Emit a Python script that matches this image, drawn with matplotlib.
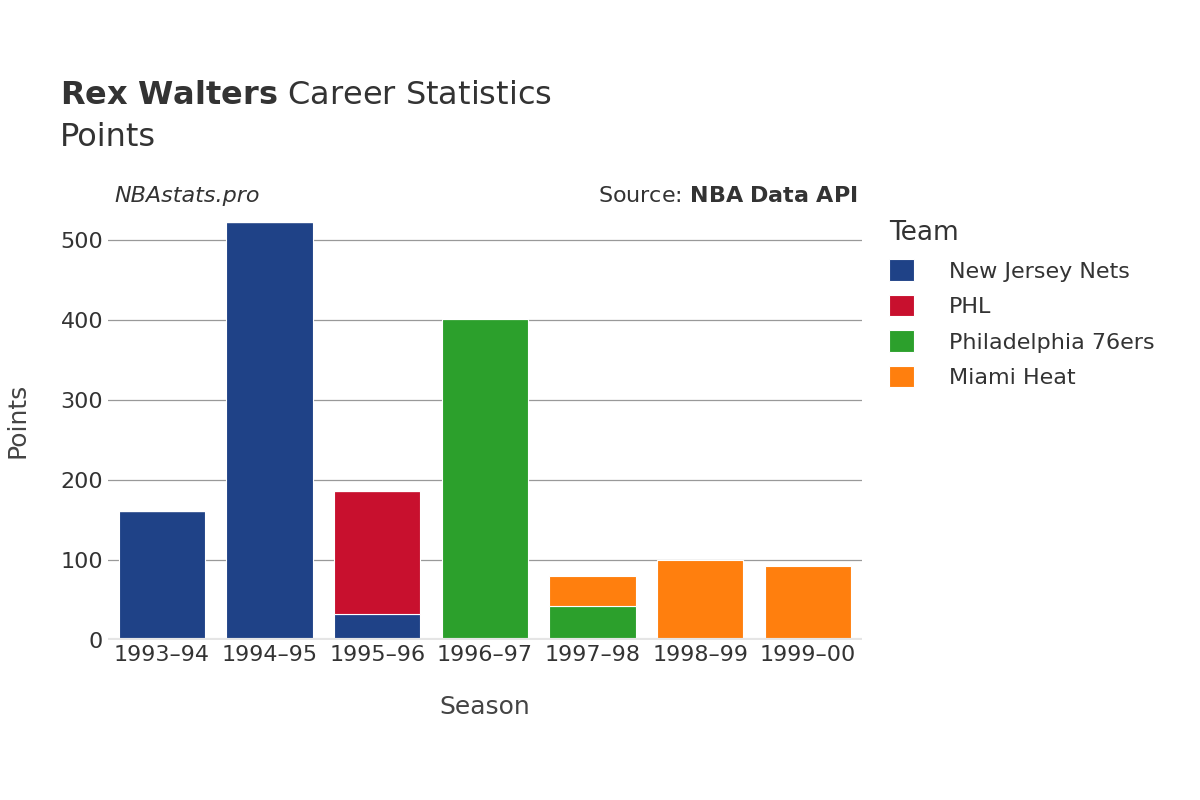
import matplotlib
matplotlib.use("Agg")
import matplotlib.pyplot as plt
import numpy as np

seasons = ["1993–94", "1994–95", "1995–96", "1996–97", "1997–98", "1998–99", "1999–00"]
teams = ["New Jersey Nets", "PHL", "Philadelphia 76ers", "Miami Heat"]
colors = ["#1f4287", "#c8102e", "#2ca02c", "#ff7f0e"]
nets = [161, 522, 33, 0, 0, 0, 0]
phl = [0, 0, 153, 0, 0, 0, 0]
sixers = [0, 0, 0, 401, 42, 0, 0]
heat = [0, 0, 0, 0, 38, 100, 92]
series = [nets, phl, sixers, heat]

fig = plt.figure(figsize=(12, 8), dpi=100)
ax = fig.add_axes([0.09, 0.2, 0.628, 0.55])
x = np.arange(len(seasons))
bottom = np.zeros(len(seasons))
for vals, c, name in zip(series, colors, teams):
    v = np.array(vals, dtype=float)
    ax.bar(x, v, bottom=bottom, width=0.8, color=c, label=name, edgecolor="white", linewidth=0.8)
    bottom += v

ax.set_xlim(-0.5, 6.5)
ax.set_ylim(0, 550)
ax.set_yticks([0, 100, 200, 300, 400, 500])
ax.set_xticks(x)
ax.set_xticklabels(seasons)
ax.tick_params(labelsize=16, colors="#333333", length=0)
ax.grid(axis="y", color="#999999", linewidth=0.9)
ax.set_axisbelow(True)
for s in ax.spines.values():
    s.set_visible(False)
ax.axhline(0, color="#e5e5e5", linewidth=3)
ax.set_xlabel("Season", fontsize=18, color="#444444", labelpad=22)
ax.set_ylabel("Points", fontsize=18, color="#444444", labelpad=22)

fig.text(0.05, 0.87, r"$\bf{Rex\ Walters}$ Career Statistics", fontsize=23, color="#333333")
fig.text(0.05, 0.818, "Points", fontsize=23, color="#333333")
fig.text(0.095, 0.747, "NBAstats.pro", fontsize=16, style="italic", color="#333333")
fig.text(0.715, 0.747, r"Source: $\bf{NBA\ Data\ API}$", fontsize=16, color="#333333", ha="right")

leg = ax.legend(loc="upper left", bbox_to_anchor=(1.01, 1.0), frameon=False, fontsize=16,
                title="Team", title_fontsize=19, handlelength=1.1, handleheight=1.1,
                labelspacing=0.6, handletextpad=1.6, alignment="left")
for t in leg.get_texts():
    t.set_color("#333333")
leg.get_title().set_color("#333333")

fig.savefig("out.png", dpi=100)
